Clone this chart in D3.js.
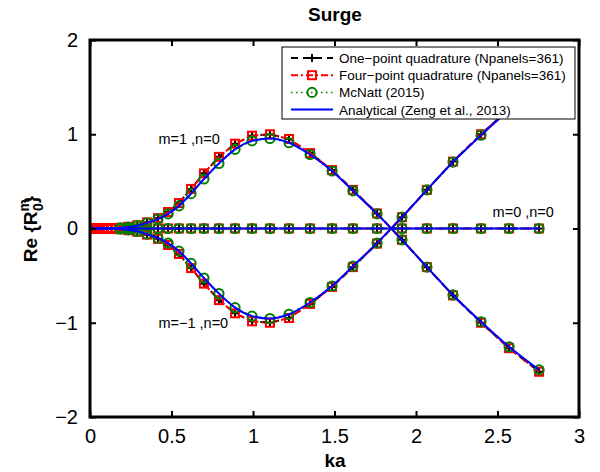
<!DOCTYPE html>
<html>
<head>
<meta charset="utf-8">
<script src="https://cdn.jsdelivr.net/npm/d3@7"></script>
<style>
  html, body { margin: 0; padding: 0; background: #fff; }
  svg { display: block; font-family: "Liberation Sans", Arial, Helvetica, sans-serif; }
</style>
</head>
<body>
<svg id="chart" width="600" height="472"></svg>
<script>
// ---------------- data ----------------
const title = "Surge";
const xLabel = "ka";
const xTicks = [0, 0.5, 1, 1.5, 2, 2.5, 3];
const yTicks = [-2, -1, 0, 1, 2];

// wave numbers of the panel-method runs and analytical curve
const kaQuad = [0.002, 0.008, 0.018, 0.03, 0.045, 0.062, 0.082, 0.105, 0.13, 0.157, 0.185, 0.235, 0.29, 0.35, 0.417, 0.479, 0.546, 0.62, 0.699, 0.791, 0.89, 0.994, 1.104, 1.221, 1.35, 1.485, 1.613, 1.761, 1.914, 2.067, 2.227, 2.399, 2.571, 2.755];
// wave numbers of McNatt (2015)
const kaMcNatt = [0.185, 0.235, 0.29, 0.35, 0.417, 0.479, 0.546, 0.62, 0.699, 0.791, 0.89, 0.994, 1.104, 1.221, 1.35, 1.485, 1.613, 1.761, 1.914, 2.067, 2.227, 2.399, 2.571, 2.755];

// One-point quadrature (Npanels=361)
const onePtM1  = [0, 0, 0, 0, 0, 0, 0, 0, 0.002, 0.004, 0.008, 0.018, 0.035, 0.065, 0.11, 0.175, 0.27, 0.42, 0.585, 0.76, 0.9, 0.985, 1.0, 0.95, 0.8, 0.62, 0.41, 0.16, -0.12, -0.41, -0.71, -1.0, -1.27, -1.52];
const onePtM0  = [0, 0, 0, 0, 0, 0, 0, 0, 0, 0, 0, 0, 0, 0, 0, 0, 0, 0, 0, 0, 0, 0, 0, 0, 0, 0, 0, 0, 0, 0, 0, 0, 0, 0];
const onePtMm1 = [0, 0, 0, 0, 0, 0, 0, 0, -0.002, -0.004, -0.008, -0.018, -0.035, -0.065, -0.11, -0.175, -0.27, -0.42, -0.585, -0.76, -0.9, -0.985, -1.0, -0.95, -0.8, -0.62, -0.41, -0.16, 0.12, 0.41, 0.71, 1.0, 1.27, 1.52];

// Four-point quadrature (Npanels=361)
const fourPtM1  = [0, 0, 0, 0, 0, 0, 0, 0, 0.002, 0.004, 0.008, 0.018, 0.035, 0.065, 0.11, 0.175, 0.27, 0.42, 0.585, 0.76, 0.9, 0.985, 1.0, 0.95, 0.8, 0.62, 0.41, 0.16, -0.12, -0.41, -0.71, -1.0, -1.27, -1.52];
const fourPtM0  = [0, 0, 0, 0, 0, 0, 0, 0, 0, 0, 0, 0, 0, 0, 0, 0, 0, 0, 0, 0, 0, 0, 0, 0, 0, 0, 0, 0, 0, 0, 0, 0, 0, 0];
const fourPtMm1 = [0, 0, 0, 0, 0, 0, 0, 0, -0.002, -0.004, -0.008, -0.018, -0.035, -0.065, -0.11, -0.175, -0.27, -0.42, -0.585, -0.76, -0.9, -0.985, -1.0, -0.95, -0.8, -0.62, -0.41, -0.16, 0.12, 0.41, 0.71, 1.0, 1.27, 1.52];

// McNatt (2015)
const mcNattM1  = [0.007, 0.015, 0.03, 0.06, 0.1, 0.155, 0.24, 0.37, 0.525, 0.69, 0.84, 0.93, 0.955, 0.91, 0.785, 0.61, 0.4, 0.155, -0.12, -0.41, -0.705, -0.99, -1.255, -1.5];
const mcNattM0  = [0, 0, 0, 0, 0, 0, 0, 0, 0, 0, 0, 0, 0, 0, 0, 0, 0, 0, 0, 0, 0, 0, 0, 0];
const mcNattMm1 = [-0.007, -0.015, -0.03, -0.06, -0.1, -0.155, -0.24, -0.37, -0.525, -0.69, -0.84, -0.93, -0.955, -0.91, -0.785, -0.61, -0.4, -0.155, 0.12, 0.41, 0.705, 0.99, 1.255, 1.5];

// Analytical (Zeng et al., 2013)
const anaM1  = [0, 0, 0, 0, 0, 0, 0, 0, 0.001, 0.003, 0.007, 0.015, 0.03, 0.06, 0.1, 0.155, 0.24, 0.37, 0.525, 0.69, 0.84, 0.93, 0.955, 0.91, 0.785, 0.61, 0.4, 0.155, -0.12, -0.41, -0.705, -0.99, -1.255, -1.5];
const anaM0  = [0, 0, 0, 0, 0, 0, 0, 0, 0, 0, 0, 0, 0, 0, 0, 0, 0, 0, 0, 0, 0, 0, 0, 0, 0, 0, 0, 0, 0, 0, 0, 0, 0, 0];
const anaMm1 = [0, 0, 0, 0, 0, 0, 0, 0, -0.001, -0.003, -0.007, -0.015, -0.03, -0.06, -0.1, -0.155, -0.24, -0.37, -0.525, -0.69, -0.84, -0.93, -0.955, -0.91, -0.785, -0.61, -0.4, -0.155, 0.12, 0.41, 0.705, 0.99, 1.255, 1.5];

const legendLabels = ["One\u2212point quadrature (Npanels=361)", "Four\u2212point quadrature (Npanels=361)", "McNatt (2015)", "Analytical (Zeng et al., 2013)"];
const curveLabels = [
  {text: "m=1 ,n=0", ka: 0.42, v: 0.9},
  {text: "m=\u22121 ,n=0", ka: 0.42, v: -1.06},
  {text: "m=0 ,n=0", ka: 2.47, v: 0.12}
];

// ---------------- layout ----------------
const svg = d3.select("#chart");
const L = 90, R = 579, T = 40, B = 417;
const x = d3.scaleLinear().domain([0, 3]).range([L, R]);
const y = d3.scaleLinear().domain([-2, 2]).range([B, T]);

const styles = [
  {key: "one",  color: "#000000", dash: "7,5",  width: 2,   marker: "plus"},
  {key: "four", color: "#ff0000", dash: "7,3,2,3", width: 2, marker: "square"},
  {key: "mc",   color: "#008000", dash: "1.5,3.5", width: 1.5, marker: "circle"},
  {key: "ana",  color: "#0000ff", dash: null,   width: 2,   marker: null}
];

const seriesSets = [
  {style: styles[0], ka: kaQuad,   ys: [onePtM1, onePtM0, onePtMm1]},
  {style: styles[1], ka: kaQuad,   ys: [fourPtM1, fourPtM0, fourPtMm1]},
  {style: styles[2], ka: kaMcNatt, ys: [mcNattM1, mcNattM0, mcNattMm1]},
  {style: styles[3], ka: kaQuad,   ys: [anaM1, anaM0, anaMm1]}
];

svg.append("defs").append("clipPath").attr("id", "clip")
  .append("rect").attr("x", L).attr("y", T).attr("width", R - L).attr("height", B - T);

const plot = svg.append("g").attr("clip-path", "url(#clip)");

function drawMarker(g, type, cx, cy, color) {
  if (type === "plus") {
    g.append("path").attr("d", `M${cx-4},${cy}H${cx+4}M${cx},${cy-4}V${cy+4}`)
      .attr("stroke", color).attr("stroke-width", 2).attr("fill", "none");
  } else if (type === "square") {
    g.append("rect").attr("x", cx - 4).attr("y", cy - 4).attr("width", 8).attr("height", 8)
      .attr("stroke", color).attr("stroke-width", 2).attr("fill", "none");
  } else if (type === "circle") {
    g.append("circle").attr("cx", cx).attr("cy", cy).attr("r", 4.6)
      .attr("stroke", color).attr("stroke-width", 2).attr("fill", "none");
  }
}

seriesSets.forEach(set => {
  const st = set.style;
  const line = d3.line().x(d => x(d[0])).y(d => y(d[1]));
  if (st.key === "ana") line.curve(d3.curveMonotoneX);
  set.ys.forEach(vals => {
    const pts = set.ka.map((k, i) => [k, vals[i]]);
    const g = plot.append("g");
    g.append("path").datum(pts).attr("d", line)
      .attr("fill", "none").attr("stroke", st.color).attr("stroke-width", st.width)
      .attr("stroke-dasharray", st.dash);
    if (st.marker) pts.forEach(p => drawMarker(g, st.marker, x(p[0]), y(p[1]), st.color));
  });
});

// ---------------- axes ----------------
const axG = svg.append("g");
axG.append("rect").attr("x", L).attr("y", T).attr("width", R - L).attr("height", B - T)
  .attr("fill", "none").attr("stroke", "#000").attr("stroke-width", 3);

const bottomAxis = d3.axisBottom(x).tickValues(xTicks).tickSize(-6).tickPadding(12).tickFormat(d3.format("~g"));
const topAxis = d3.axisTop(x).tickValues(xTicks).tickSize(-6).tickFormat("");
const leftAxis = d3.axisLeft(y).tickValues(yTicks).tickSize(-6).tickPadding(12)
  .tickFormat(d => d < 0 ? "\u2212" + Math.abs(d) : String(d));
const rightAxis = d3.axisRight(y).tickValues(yTicks).tickSize(-6).tickFormat("");

function styleAxis(g) {
  g.select(".domain").remove();
  g.selectAll(".tick line").attr("stroke", "#000").attr("stroke-width", 2);
  g.selectAll(".tick text").attr("fill", "#000").attr("font-size", 20)
    .attr("font-family", "Liberation Sans, Arial, sans-serif");
}
axG.append("g").attr("transform", `translate(0,${B})`).call(bottomAxis).call(styleAxis);
axG.append("g").attr("transform", `translate(0,${T})`).call(topAxis).call(styleAxis);
axG.append("g").attr("transform", `translate(${L},0)`).call(leftAxis).call(styleAxis);
axG.append("g").attr("transform", `translate(${R},0)`).call(rightAxis).call(styleAxis);

// ---------------- labels ----------------
svg.append("text").attr("x", 335).attr("y", 21).attr("text-anchor", "middle")
  .attr("font-size", 19).attr("font-weight", "bold").text(title);
svg.append("text").attr("x", 335).attr("y", 467).attr("text-anchor", "middle")
  .attr("font-size", 19).attr("font-weight", "bold").text(xLabel);

const yl = svg.append("text").attr("transform", "translate(37,229) rotate(-90)")
  .attr("text-anchor", "middle").attr("font-size", 19).attr("font-weight", "bold");
yl.append("tspan").text("Re {R");
yl.append("tspan").attr("font-size", 14).attr("dy", -8).text("m");
yl.append("tspan").attr("font-size", 14).attr("dx", -12).attr("dy", 14).text("0");
yl.append("tspan").attr("dy", -6).text("}");

curveLabels.forEach(c => {
  svg.append("text").attr("x", x(c.ka)).attr("y", y(c.v)).attr("font-size", 14.5)
    .attr("fill", "#000").text(c.text);
});

// ---------------- legend ----------------
const lg = svg.append("g");
lg.append("rect").attr("x", 282).attr("y", 47).attr("width", 293).attr("height", 72)
  .attr("fill", "#fff").attr("stroke", "#000").attr("stroke-width", 1);
styles.forEach((st, i) => {
  const cy = 58 + i * 17.2;
  lg.append("line").attr("x1", 291).attr("x2", 333).attr("y1", cy).attr("y2", cy)
    .attr("stroke", st.color).attr("stroke-width", st.width).attr("stroke-dasharray", st.dash);
  if (st.marker) drawMarker(lg, st.marker, 312, cy, st.color);
  lg.append("text").attr("x", 339).attr("y", cy + 5).attr("font-size", 13.5).attr("fill", "#000")
    .text(legendLabels[i]);
});
</script>
</body>
</html>
